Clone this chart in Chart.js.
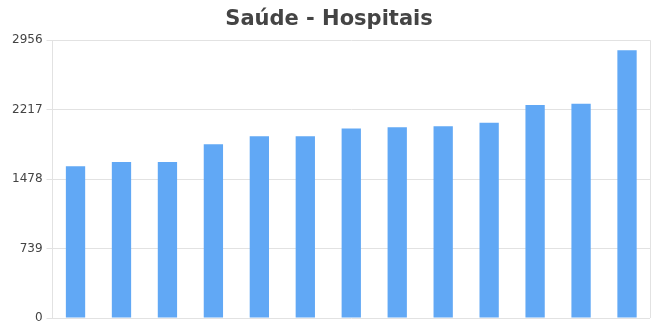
<!DOCTYPE html>
<html>
<head>
<meta charset="utf-8">
<script src="https://cdn.jsdelivr.net/npm/chart.js@4/dist/chart.umd.min.js"></script>
<style>
  html, body { margin: 0; padding: 0; background: #fff; }
  #wrap { width: 659px; height: 327px; }
</style>
</head>
<body>
<div id="wrap"><canvas id="hospChart"></canvas></div>
<script>
const labels = ["1", "2", "3", "4", "5", "6", "7", "8", "9", "10", "11", "12", "13"];
const hospitais = [1614, 1659, 1659, 1850, 1935, 1935, 2016, 2030, 2041, 2077, 2267, 2281, 2850];
const yTicks = [0, 739, 1478, 2217, 2956];

// draws the right edge of the plot frame
const frameRight = {
  id: "frameRight",
  afterDraw(chart) {
    const a = chart.chartArea;
    const ctx = chart.ctx;
    ctx.save();
    ctx.strokeStyle = "#e2e2e2";
    ctx.lineWidth = 1;
    ctx.beginPath();
    ctx.moveTo(Math.round(a.right) + 0.5, a.top);
    ctx.lineTo(Math.round(a.right) + 0.5, a.bottom);
    ctx.stroke();
    ctx.restore();
  },
};

new Chart(document.getElementById("hospChart"), {
  type: "bar",
  data: {
    labels: labels,
    datasets: [
      {
        data: hospitais,
        backgroundColor: "#61a8f5",
        borderWidth: 0,
        barPercentage: 0.42,
        categoryPercentage: 1,
      },
    ],
  },
  options: {
    responsive: true,
    maintainAspectRatio: false,
    animation: false,
    layout: { padding: { left: 8, right: 9, top: 0, bottom: 9 } },
    plugins: {
      legend: { display: false },
      tooltip: { enabled: false },
      title: {
        display: true,
        text: "Saúde - Hospitais",
        color: "#444",
        font: { family: "DejaVu Sans", size: 21, weight: "bold" },
        padding: { top: 7, bottom: 8 },
      },
    },
    scales: {
      x: {
        display: false,
      },
      y: {
        min: 0,
        max: 2956,
        afterBuildTicks(axis) {
          axis.ticks = yTicks.map((v) => ({ value: v }));
        },
        afterFit(axis) {
          axis.paddingBottom = 0;
        },
        ticks: {
          color: "#444",
          padding: 4,
          font: { family: "DejaVu Sans", size: 12 },
          callback: (v) => String(v),
        },
        grid: { color: "#e2e2e2", tickLength: 6 },
        border: { color: "#e2e2e2" },
      },
    },
  },
  plugins: [frameRight],
});
</script>
</body>
</html>
